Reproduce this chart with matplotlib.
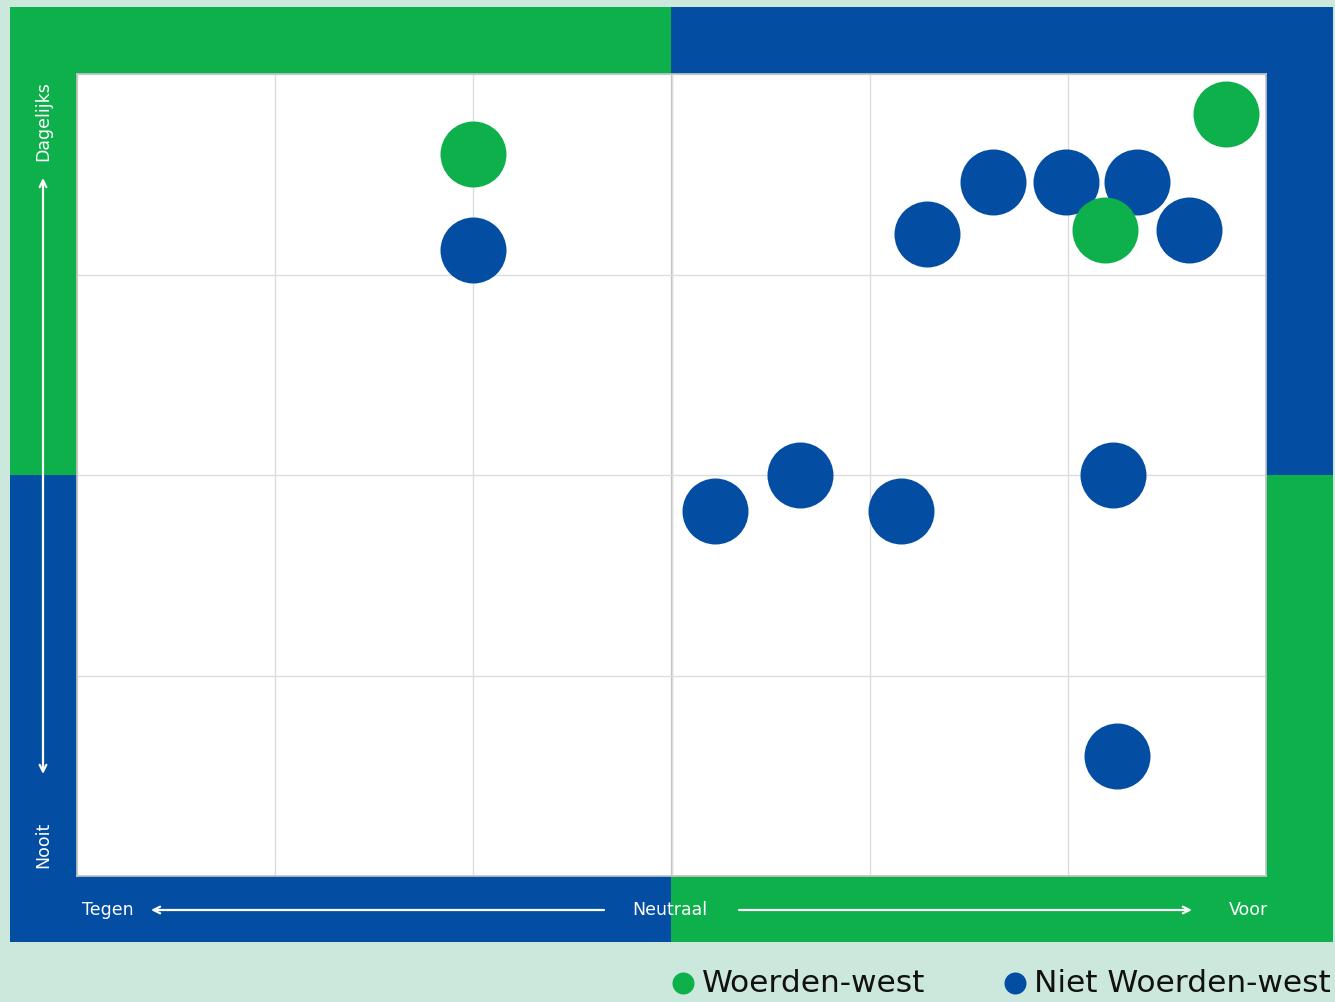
import matplotlib
matplotlib.use("Agg")
import matplotlib.pyplot as plt
from matplotlib.patches import Rectangle

# ---------------- data ----------------
green_x = [2.0, 5.80, 5.19]
green_y = [3.60, 3.80, 3.22]
blue_x = [2.0, 4.29, 4.62, 4.99, 5.35, 5.61, 3.22, 3.65, 4.16, 5.23, 5.25]
blue_y = [3.12, 3.20, 3.46, 3.46, 3.46, 3.22, 1.82, 2.00, 1.82, 2.00, 0.60]
series_labels = ["Woerden-west", "Niet Woerden-west"]
x_ticks = [0, 1, 2, 3, 4, 5, 6]
y_ticks = [0, 1, 2, 3, 4]
x_labels = ["Tegen", "Neutraal", "Voor"]
y_labels = ["Dagelijks", "Nooit"]

GREEN = "#0db04b"
BLUE = "#034ea2"
MINT = "#cce8dc"

W, H = 1335, 1002
fig = plt.figure(figsize=(W / 100, H / 100), dpi=100, facecolor=MINT)

# background axes in pixel coordinates
bg = fig.add_axes([0, 0, 1, 1])
bg.set_xlim(0, W)
bg.set_ylim(H, 0)
bg.axis("off")
bg.patch.set_alpha(0)

x0, xm, x1 = 10, 671, 1333
y0, ym, y1 = 7, 475, 942
bg.add_patch(Rectangle((x0, y0), xm - x0, ym - y0, color=GREEN, lw=0))
bg.add_patch(Rectangle((xm, y0), x1 - xm, ym - y0, color=BLUE, lw=0))
bg.add_patch(Rectangle((x0, ym), xm - x0, y1 - ym, color=BLUE, lw=0))
bg.add_patch(Rectangle((xm, ym), x1 - xm, y1 - ym, color=GREEN, lw=0))

tfont = dict(color="white", fontsize=12.5, family="DejaVu Sans")
bg.text(43, 121, y_labels[0], rotation=90, ha="center", va="center", **tfont)
bg.text(43, 845, y_labels[1], rotation=90, ha="center", va="center", **tfont)
bg.annotate("", xy=(43, 178), xytext=(43, 774),
            arrowprops=dict(arrowstyle="<->", color="white", lw=1.6,
                            shrinkA=0, shrinkB=0, mutation_scale=12))
bg.text(82, 910, x_labels[0], ha="left", va="center", **tfont)
bg.text(670, 910, x_labels[1], ha="center", va="center", **tfont)
bg.text(1268, 910, x_labels[2], ha="right", va="center", **tfont)
bg.annotate("", xy=(151, 910), xytext=(604, 910),
            arrowprops=dict(arrowstyle="->", color="white", lw=1.6,
                            shrinkA=0, shrinkB=0, mutation_scale=12))
bg.annotate("", xy=(1192, 910), xytext=(739, 910),
            arrowprops=dict(arrowstyle="->", color="white", lw=1.6,
                            shrinkA=0, shrinkB=0, mutation_scale=12))

# legend (manual)
lfont = dict(color="#111111", fontsize=22.5, family="DejaVu Sans", va="center", ha="left")
bg.scatter([683], [983], s=(22 * 0.72) ** 2, color=GREEN, lw=0, clip_on=False)
bg.text(702, 983, series_labels[0], **lfont)
bg.scatter([1015], [983], s=(22 * 0.72) ** 2, color=BLUE, lw=0, clip_on=False)
bg.text(1034, 983, series_labels[1], **lfont)

# main plot axes
left, right, top, bottom = 77, 1266, 74, 876
ax = fig.add_axes([left / W, (H - bottom) / H, (right - left) / W, (bottom - top) / H])
ax.set_facecolor("white")
ax.set_xlim(x_ticks[0], x_ticks[-1])
ax.set_ylim(y_ticks[0], y_ticks[-1])
ax.set_xticks(x_ticks)
ax.set_yticks(y_ticks)
ax.tick_params(length=0, labelbottom=False, labelleft=False)
ax.grid(True, color="#dcdcdc", lw=1.0, zorder=0)
ax.axvline(3, color="#bdbdbd", lw=1.6, zorder=1)
for s in ax.spines.values():
    s.set_color("#c4c4c4")
    s.set_linewidth(1.2)

msize = (66 * 0.72) ** 2
ax.scatter(blue_x, blue_y, s=msize, color=BLUE, lw=0, zorder=3, clip_on=False)
ax.scatter(green_x, green_y, s=msize, color=GREEN, lw=0, zorder=4, clip_on=False)

fig.savefig("out.png", dpi=100, facecolor=MINT)
